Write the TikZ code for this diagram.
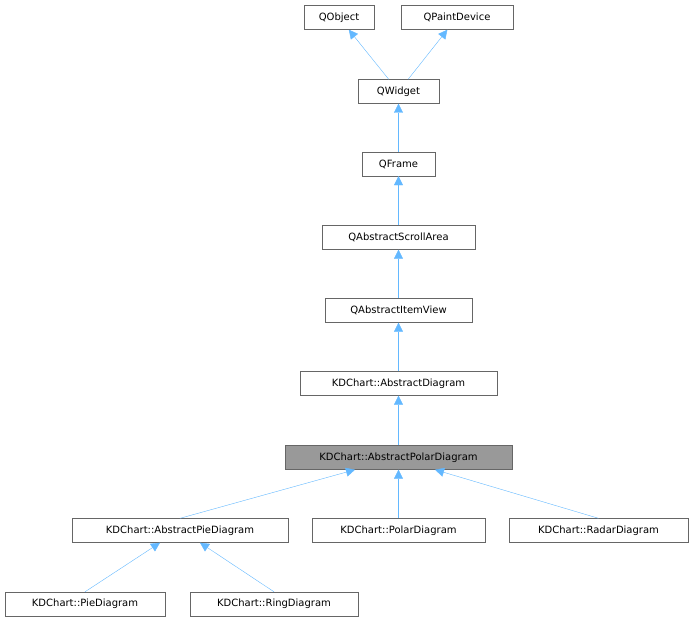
\documentclass[tikz,border=0pt]{standalone}
\usepackage{fontspec}
\setmainfont{DejaVu Sans}
\usetikzlibrary{arrows.meta}
\definecolor{edgeblue}{HTML}{63B8FF}
\definecolor{dgray}{HTML}{666666}
\begin{document}
\begin{tikzpicture}[
	x = 1pt, y = -1pt, % pixel grid of the graph
	cls/.style = {draw=dgray, fill=white, minimum height=24pt, inner sep=0pt,
		font=\fontsize{10}{12}\selectfont},
	inherit/.style = {draw=edgeblue, -{Triangle[length=9pt,width=9pt,fill=edgeblue]}}
	]
	\useasboundingbox (0,0) rectangle (693,623);
	
	\node[cls, minimum width=70pt] (qObject) at (339,17.5) {QObject};
	\node[cls, minimum width=112pt] (qPaint) at (457,17.5) {QPaintDevice};
	\node[cls, minimum width=81pt] (qWidget) at (398.5,91.5) {QWidget};
	\node[cls, minimum width=73pt] (qFrame) at (398.5,164) {QFrame};
	\node[cls, minimum width=153pt] (qScroll) at (398.5,237.5) {QAbstractScrollArea};
	\node[cls, minimum width=147pt] (qItemView) at (398.5,310.5) {QAbstractItemView};
	\node[cls, minimum width=197pt] (absDiag) at (398.5,383.5) {KDChart::AbstractDiagram};
	\node[cls, minimum width=227pt, fill=gray!80] (polarBase) at (398.5,457.5) {KDChart::AbstractPolarDiagram};
	\node[cls, minimum width=216pt] (pieBase) at (180,530.5) {KDChart::AbstractPieDiagram};
	\node[cls, minimum width=173pt] (polar) at (398.5,530.5) {KDChart::PolarDiagram};
	\node[cls, minimum width=179pt] (radar) at (598.5,530.5) {KDChart::RadarDiagram};
	\node[cls, minimum width=160pt] (pie) at (85,604) {KDChart::PieDiagram};
	\node[cls, minimum width=168pt] (ring) at (274,604) {KDChart::RingDiagram};
	
	\draw[inherit] (qWidget) -- (qObject);
	\draw[inherit] (qWidget) -- (qPaint);
	\draw[inherit] (qFrame) -- (qWidget);
	\draw[inherit] (qScroll) -- (qFrame);
	\draw[inherit] (qItemView) -- (qScroll);
	\draw[inherit] (absDiag) -- (qItemView);
	\draw[inherit] (polarBase) -- (absDiag);
	\draw[inherit] (pieBase.north) -- (polarBase.south -| 355,0);
	\draw[inherit] (polar) -- (polarBase);
	\draw[inherit] (radar.north) -- (polarBase.south -| 435,0);
	\draw[inherit] (pie.north) -- (pieBase.south -| 160,0);
	\draw[inherit] (ring.north) -- (pieBase.south -| 200,0);
\end{tikzpicture}
\end{document}
